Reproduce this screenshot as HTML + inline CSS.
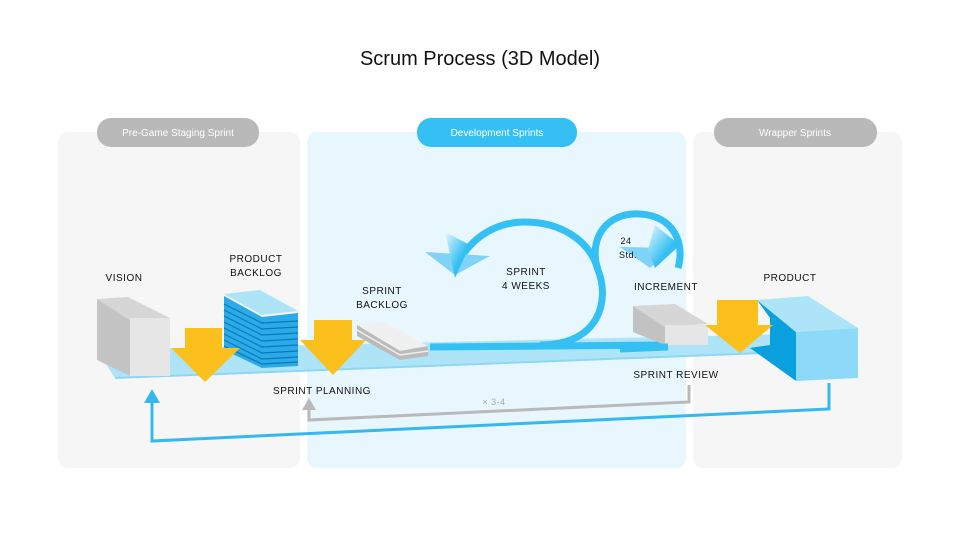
<!DOCTYPE html>
<html><head><meta charset="utf-8"><style>
html,body{margin:0;padding:0;background:#fff;}
svg{display:block;font-family:"Liberation Sans",sans-serif;}
</style></head><body>
<svg width="960" height="540" viewBox="0 0 960 540">
<defs>
<linearGradient id="ag" x1="0" y1="0" x2="1" y2="1"><stop offset="0" stop-color="#e8f7fd"/><stop offset="0.6" stop-color="#35c0f3"/></linearGradient>
</defs>
<text x="480" y="65" text-anchor="middle" font-size="20" fill="#111">Scrum Process (3D Model)</text>
<rect x="58" y="132" width="242" height="336" rx="10" fill="#f6f6f6"/>
<rect x="307" y="132" width="379" height="336" rx="10" fill="#e8f7fd"/>
<rect x="693" y="132" width="209" height="336" rx="10" fill="#f6f6f6"/>
<rect x="97" y="118" width="162" height="29" rx="14" fill="#b9b9b9"/>
<rect x="417" y="118" width="160" height="29" rx="14" fill="#35c0f3"/>
<rect x="714" y="118" width="163" height="29" rx="14" fill="#b9b9b9"/>
<g font-size="10" fill="#fff" text-anchor="middle">
<text x="178" y="136">Pre-Game Staging Sprint</text>
<text x="497" y="136">Development Sprints</text>
<text x="795" y="136">Wrapper Sprints</text>
</g>
<!-- belt -->
<polygon points="97,350 790,334 790,352 115,378" fill="#aee4f8"/>
<line x1="115" y1="378" x2="790" y2="352" stroke="#8fd6f4" stroke-width="2"/>
<!-- return lines -->
<polyline points="829,383 829,409 152,441 152,398" fill="none" stroke="#35b8ef" stroke-width="3"/>
<polygon points="144,403 152,389 160,403" fill="#35b8ef"/>
<polyline points="689,385 689,402 309,420 309,406" fill="none" stroke="#b9b9b9" stroke-width="3"/>
<polygon points="302,410 309,398 316,410" fill="#b9b9b9"/>
<!-- vision box -->
<polygon points="97,299 128,297 170,318 130,320" fill="#d6d6d6"/>
<polygon points="97,299 130,320 130,376 97,360" fill="#c4c4c4"/>
<rect x="130" y="318" width="40" height="58" fill="#e6e6e6"/>
<!-- product backlog stack -->
<polygon points="224,296 224,350 262,368 298,366 298,313 262,317" fill="#2aaae6"/>
<g stroke="#0a78b8" stroke-width="1.2" fill="none">
<polyline points="224,304 262,323 298,321"/><polyline points="224,310 262,329 298,327"/>
<polyline points="224,316 262,335 298,333"/><polyline points="224,322 262,341 298,339"/>
<polyline points="224,328 262,347 298,345"/><polyline points="224,334 262,353 298,351"/>
<polyline points="224,340 262,359 298,357"/><polyline points="224,346 262,364 298,362"/>
</g>
<polygon points="224,294 260,290 298,311 262,315" fill="#aee4f8"/>
<!-- sprint backlog -->
<polygon points="357,325 385,322 428,346 400,351" fill="#f0f0f0"/>
<polygon points="357,325 400,351 428,346 428,356 400,360 357,336" fill="#bbb"/>
<polyline points="357,330 400,355 428,351" stroke="#eee" stroke-width="1.5" fill="none"/>
<!-- loop -->
<g stroke="#35c0f3" stroke-width="7" fill="none">
<line x1="430" y1="347" x2="668" y2="345"/>
<path d="M 540 345 C 600 345 610 300 598 270 C 590 240 560 222 525 222 C 490 222 465 245 458 265"/>
<path d="M 598 270 C 588 240 605 212 640 214 C 675 216 685 245 678 268"/>
</g>
<polygon points="425,252 490,256 455,275" fill="#7ed3f6"/>
<polygon points="445,232 470,245 455,278 448,245" fill="url(#ag)"/>
<polygon points="620,247 675,248 650,268" fill="#7ed3f6"/>
<polygon points="655,225 680,245 655,268 648,250" fill="url(#ag)"/>
<!-- increment box -->
<polygon points="633,306 675,304 708,324 665,327" fill="#d6d6d6"/>
<polygon points="633,306 665,327 665,345 633,332" fill="#c2c2c2"/>
<rect x="665" y="325" width="43" height="20" fill="#e6e6e6"/>
<line x1="620" y1="349" x2="668" y2="347" stroke="#35c0f3" stroke-width="7"/>
<!-- product box -->
<polygon points="757,300 796,332 796,381 750,348 770,345 770,318" fill="#0aa0de"/>
<polygon points="757,300 808,296 858,328 796,332" fill="#aee4f8"/>
<polygon points="796,332 858,328 858,378 796,381" fill="#8ddaf8"/>
<!-- yellow arrows -->
<g fill="#fbc01c">
<polygon points="185,328 222,328 222,348 240,348 205,382 171,348 185,348"/>
<polygon points="314,320 352,320 352,340 366,340 333,375 300,340 314,340"/>
<polygon points="717,300 758,300 758,325 773,325 740,353 705,325 717,325"/>
</g>
<!-- labels -->
<g font-size="10" fill="#111" text-anchor="middle" letter-spacing="0.5">
<text x="124" y="281">VISION</text>
<text x="256" y="262">PRODUCT</text><text x="256" y="276">BACKLOG</text>
<text x="382" y="294">SPRINT</text><text x="382" y="308">BACKLOG</text>
<text x="526" y="275">SPRINT</text><text x="526" y="289">4 WEEKS</text>
<text x="626" y="244" font-size="9">24</text><text x="628" y="258" font-size="9">Std.</text>
<text x="666" y="290">INCREMENT</text>
<text x="790" y="281">PRODUCT</text>
<text x="322" y="394">SPRINT PLANNING</text>
<text x="676" y="378">SPRINT REVIEW</text>
<text x="494" y="405" fill="#aaa" font-size="9">× 3-4</text>
</g>
</svg>
</body></html>
